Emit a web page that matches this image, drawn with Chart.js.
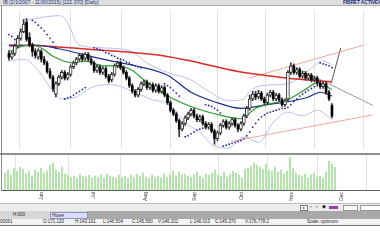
<!DOCTYPE html>
<html>
<head>
<meta charset="utf-8">
<script src="https://cdn.jsdelivr.net/npm/chart.js@4.4.1/dist/chart.umd.min.js"></script>
<style>
html, body { margin: 0; padding: 0; width: 380px; height: 240px; overflow: hidden; background: #fff; font-family: "Liberation Sans", Arial, sans-serif; }
.abs { position: absolute; }
#topbar { left: 0; top: 0; width: 380px; height: 5px; background: #dedede; border-bottom: 1px solid #ababab; font-size: 5px; line-height: 5px; color: #23307a; white-space: nowrap; overflow: hidden; }
#topbar .l { position: absolute; left: 3px; top: 0; }
#topbar .r { position: absolute; left: 343px; top: 0; font-weight: bold; letter-spacing: -0.2px; }
#price { left: 2px; top: 6px; }
#vol { left: 2px; top: 155px; }
#sep { left: 0; top: 153px; width: 380px; height: 2px; background: #8f8f8f; }
#leftline { left: 1px; top: 6px; width: 1px; height: 185px; background: #8a8a8a; }
.bar { left: 0; width: 380px; font-size: 4.5px; white-space: nowrap; overflow: hidden; color: #222; }
.bar span { position: absolute; }
</style>
</head>
<body>
<div id="topbar" class="abs"><span class="l">IB (2/1/2007 - 11/30/2015) [122.370] [Daily]</span><span class="r">FIBRET ACTIVEX CHART</span></div>
<canvas id="price" class="abs" width="378" height="147"></canvas>
<div id="sep" class="abs"></div>
<canvas id="vol" class="abs" width="378" height="47"></canvas>
<div id="leftline" class="abs"></div>

<div class="abs bar" style="top:203px;height:1px;background:#bdbdbd"></div>
<div class="abs bar" style="top:204px;height:7px;background:#ececec;line-height:6px">
  <span style="left:300px;top:1px;width:6px;height:4px;border:1px solid #777;background:#fff;font-size:4px;line-height:4px;text-align:center">&#9656;</span>
  <span style="left:310px;top:0">&lsaquo;</span>
  <span style="left:316px;top:0">&rsaquo;</span>
  <span style="left:322px;top:0">&#9670;</span>
  <span style="left:329px;top:2px;width:9px;height:3px;background:#a23ea8"></span>
  <span style="left:343px;top:1px;width:13px;height:4px;border:1px solid #999;background:#f8f8f8"></span>
  <span style="left:360px;top:1px;width:19px;height:4px;border:1px solid #999;background:#fff"></span>
</div>
<div class="abs bar" style="top:211px;height:8px;background:#a9a9a9;line-height:8px">
  <span style="left:0;top:0;width:87px;height:8px;background:#d7d7d7"></span>
  <span style="left:13px;top:0">H:000</span>
  <span style="left:50px;top:1px;width:36px;height:5px;border:1px solid #8d90d0;background:#dcdcf7;line-height:5px">&nbsp;Hover</span>
</div>
<div class="abs bar" style="top:219px;height:6px;background:#f3f3f3;line-height:6px">
  <span style="left:0">00061</span>
  <span style="left:43px">O:171.120</span>
  <span style="left:75px">H:143.101</span>
  <span style="left:103px">L:146.504</span>
  <span style="left:132px">C:145.560</span>
  <span style="left:158px">V:146.201</span>
  <span style="left:190px">L:146.013</span>
  <span style="left:215px">C:145.370</span>
  <span style="left:245px">V:176,778.2</span>
  <span style="left:307px">Scale: optimum</span>
</div>
<div class="abs bar" style="top:225px;height:1px;background:#6f6f6f"></div>

<script>
// daily candles (price units), one per trading day
const openP = [148,144,148,156,164,171,181,165,157,150,144,150,142,138,129,123,105,116,123,128,
  122,126,134,138,142,146,143,147,142,138,130,134,128,132,124,120,126,135,138,133,
  128,122,114,108,104,110,116,118,112,115,109,114,108,112,104,96,88,84,77,68,
  74,80,84,88,82,78,81,74,70,73,66,58,64,72,76,70,74,78,72,68,
  74,82,90,100,105,102,106,100,96,104,107,100,104,99,94,100,128,135,128,131,
  124,127,122,125,120,122,117,113,116,107,93];
const closeP = [144,148,156,164,171,179,163,157,150,146,151,142,138,129,123,111,116,123,128,122,
  126,134,138,142,146,142,147,142,138,130,134,128,132,124,119,126,135,138,133,128,
  122,114,108,104,110,116,118,112,115,109,114,108,112,104,96,88,84,77,68,74,
  80,84,88,82,78,81,74,70,73,66,58,64,72,76,70,74,78,72,68,74,
  82,90,100,105,102,106,100,96,104,107,100,104,99,94,98,128,135,128,131,124,
  127,122,125,120,122,117,113,116,107,100,82];
const highP = [151,150,158,167,174,184,185,170,159,153,153,152,145,140,132,125,118,125,130,130,
  128,136,140,144,148,148,149,149,144,140,136,136,134,134,126,128,137,140,140,135,
  130,124,116,110,112,118,120,120,117,117,116,116,114,114,106,98,90,86,79,76,
  82,86,90,90,84,83,83,76,75,75,68,66,74,78,78,76,80,80,74,76,
  84,92,104,108,108,109,108,102,106,109,109,106,106,101,100,130,138,137,133,133,
  129,129,127,127,124,124,119,118,118,109,95];
const lowP = [141,142,146,154,162,170,161,155,145,143,142,139,136,127,121,108,102,114,121,120,
  120,124,132,136,140,140,141,140,136,128,128,126,126,122,117,118,124,133,131,126,
  120,112,106,102,102,108,114,110,110,107,107,106,106,102,94,86,82,75,60,66,
  72,78,82,80,76,76,72,68,68,64,52,56,62,70,68,68,72,70,65,66,
  72,80,88,98,99,100,98,94,94,102,98,98,97,92,92,98,126,126,126,122,
  122,120,120,118,118,115,111,111,105,98,80];
// volume, thousands of shares
const volume = [1700,2000,1500,2200,1900,2300,2100,1600,1900,1400,
  2000,1800,2200,1700,1900,2500,2700,2000,1800,2300,
  1600,1500,1300,1400,1200,1600,1400,1300,1500,1200,
  1400,1300,1500,1200,1600,1400,1300,1200,1500,1300,
  1400,1200,1500,1300,1600,1400,1700,1300,1200,1500,
  1300,1400,1200,1600,1300,1500,1900,1400,1800,1500,
  1600,1400,1300,1500,1800,1400,1200,1600,1500,1700,
  2000,1500,1400,1800,1300,1600,1900,1700,1500,1200,
  2100,2200,2400,2700,2500,2300,2100,2600,2000,1900,
  2300,1800,2000,1600,1900,3300,2200,1700,1500,1400,
  1600,1200,1500,1700,1300,1400,1200,1800,2900,2600,2300];

// indicators at a few days each
const ma200Day = [0,12,25,38,52,65,78,92,102,110];
const ma200 = [157,156,153,150,146,138,129,123,120,118];
const ma50Day = [0,9,17,32,43,54,62,70,79,88,95,102,106,110];
const ma50 = [156,157,153,142,135,125,107,97,90,94,97,102,107,103];
const ma20Day = [0,5,8,12,15,22,26,32,37,42,46,53,62,73,79,84,89,95,101,105,110];
const ma20 = [150,156,157,152,145,138,140,135,135,130,120,105,92,82,79,90,95,99,110,117,110];
const bbUpDay = [0,2,4,6,9,13,17,19,21,23,25,32,42,47,54,62,68,75,80,82,86,95,102,107,110];
const bbUp = [152,160,172,182,185,187,188,185,174,160,156,154,150,138,128,120,108,98,100,108,114,116,130,140,136];
const bbLowDay = [0,5,10,15,18,23,28,35,42,48,55,60,65,70,75,80,85,90,95,100,105,110];
const bbLow = [140,142,130,108,100,102,112,115,108,100,93,75,65,50,48,60,54,75,86,82,88,78];
const sarDay = [0,1,2,
  8,9,10,11,12,13,14,15,16,
  19,20,21,22,23,24,25,26,
  29,30,31,32,33,34,35,36,37,38,39,40,41,42,43,44,45,
  53,54,55,56,57,58,
  60,61,62,63,64,65,66,
  67,68,69,70,71,72,
  73,74,75,76,77,78,79,80,81,82,83,84,85,86,87,88,89,90,91,92,93,94,95,96,97,98,99,100,101,102,103,104,105,
  106,107,108,109,110];
const sar = [168,166,163,
  183,181,178,175,172,168,164,160,154,
  100,101,102,104,106,108,110,112,
  154,153,152,151,149,148,146,145,143,142,141,139,138,136,135,134,133,
  116,114,112,109,106,103,
  60,61,63,65,67,68,69,
  94,93,92,90,88,85,
  50,51,52,53,54,55,56,58,61,65,70,74,78,81,83,85,86,87,88,89,90,90,91,94,97,100,103,105,107,109,111,113,114,
  138,137,136,135,133];
// drawn trendlines: [day, price] end points
const channelUp = [[81.7,122],[121,157]];
const channelLow = [[75.7,55],[123.7,83]];
const triTop = [[95.7,136],[124,93]];
const triEdge = [[109.7,116],[113,154]];

const monthDay = [12.3,29.7,47,63.3,79,95.7,112.3];
const monthLabels = ['Jun','Jul','Aug','Sep','Oct','Nov','Dec'];

const pts = (xs, ys) => xs.map((x, k) => ({x: x, y: ys[k]}));
const seg = p => p.map(q => ({x: q[0], y: q[1]}));
const days = openP.map((v, i) => i);
const upDays = days.filter(i => closeP[i] >= openP[i]);
const downDays = days.filter(i => closeP[i] < openP[i]);

function line(data, color, width, order) {
  return {type: 'line', data: data, borderColor: color, borderWidth: width, pointRadius: 0,
    cubicInterpolationMode: 'monotone', fill: false, order: order};
}

const xScale = (extra) => Object.assign({
  type: 'linear', min: -1, max: 125, offset: false,
  grid: {color: '#e3e3e3', drawTicks: false},
  afterBuildTicks: s => { s.ticks = monthDay.map(v => ({value: v})); }
}, extra);

new Chart(document.getElementById('price'), {
  type: 'bar',
  data: {
    datasets: [
      line(pts(bbUpDay, bbUp), '#b9c0ec', 1, 10),
      line(pts(bbLowDay, bbLow), '#b9c0ec', 1, 10),
      line(seg(channelUp), '#f1a5a5', 1, 9),
      line(seg(channelLow), '#f1a5a5', 1, 9),
      line(seg(triTop), '#9a9a9a', 1, 9),
      line(seg(triEdge), '#555555', 1, 9),
      line(pts(ma200Day, ma200), '#dc2a2a', 1.5, 6),
      line(pts(ma50Day, ma50), '#1f2f8c', 1.2, 5),
      line(pts(ma20Day, ma20), '#2e9a30', 1.2, 4),
      {type: 'line', data: pts(sarDay, sar), showLine: false, pointRadius: 0.9, pointBorderWidth: 0,
        pointBackgroundColor: '#2626a6', order: 3},
      {type: 'bar', data: days.map(i => ({x: i, y: [lowP[i], highP[i]]})), backgroundColor: '#333',
        barThickness: 1, grouped: false, order: 2},
      {type: 'bar', data: upDays.map(i => ({x: i, y: [openP[i], closeP[i]]})), backgroundColor: '#fff',
        borderColor: '#333', borderWidth: 1, borderSkipped: false, barThickness: 3, grouped: false, order: 1},
      {type: 'bar', data: downDays.map(i => ({x: i, y: [openP[i], closeP[i]]})), backgroundColor: '#000',
        barThickness: 2, grouped: false, order: 1}
    ]
  },
  options: {
    responsive: false, animation: false,
    layout: {padding: 0},
    plugins: {legend: {display: false}, tooltip: {enabled: false}},
    scales: {
      x: xScale({ticks: {display: false}, border: {display: false}, afterFit: s => { s.height = 0; }}),
      y: {display: false, min: 47, max: 194}
    }
  }
});

new Chart(document.getElementById('vol'), {
  type: 'bar',
  data: {
    datasets: [{data: days.map(i => ({x: i, y: volume[i]})), backgroundColor: '#a4e09a', barThickness: 1}]
  },
  options: {
    responsive: false, animation: false,
    layout: {padding: 0},
    plugins: {legend: {display: false}, tooltip: {enabled: false}},
    scales: {
      x: xScale({
        border: {color: '#5c5c5c'},
        ticks: {autoSkip: false, minRotation: 90, maxRotation: 90, padding: 2, color: '#333',
          font: {size: 5, family: 'Liberation Sans'}, callback: (v, k) => monthLabels[k]},
        afterFit: s => { s.height = 12; }
      }),
      y: {display: false, min: 0, max: 3500}
    }
  }
});
</script>
</body>
</html>
